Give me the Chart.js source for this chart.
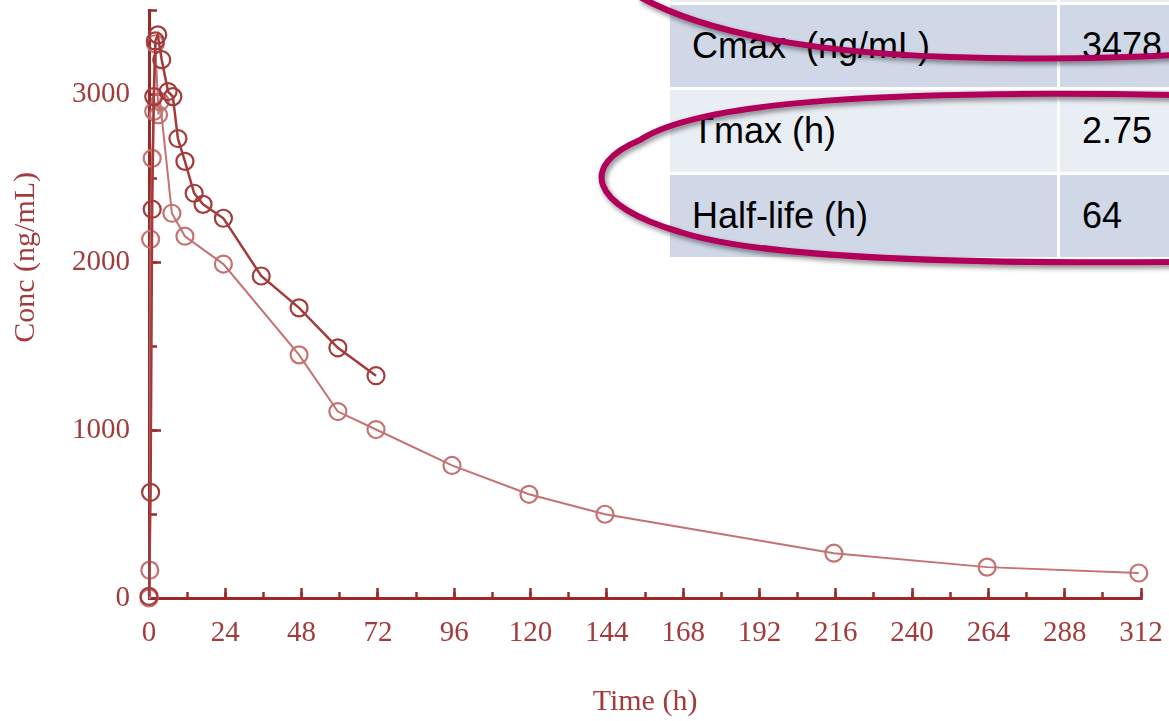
<!DOCTYPE html>
<html>
<head>
<meta charset="utf-8">
<script src="https://cdn.jsdelivr.net/npm/chart.js@4.4.0/dist/chart.umd.min.js"></script>
<style>
  html, body { margin: 0; padding: 0; background: #fff; }
  #lienzo { position: relative; width: 1169px; height: 721px; overflow: hidden; }
  #grafica { position: absolute; left: 0; top: 0; }
  .tabla { position: absolute; left: 670px; top: -80px; width: 520px;
           font-family: "Liberation Sans", Arial, sans-serif; font-size: 36px; color: #000; }
  .fila { display: flex; height: 85px; box-sizing: border-box; border-bottom: 3px solid #fff; }
  .fila.oscura { background: #d0d8e8; }
  .fila.clara { background: #e9edf4; }
  .c1 { width: 390px; box-sizing: border-box; border-right: 3px solid #fff; padding-left: 22px;
        display: flex; align-items: center; white-space: pre; }
  .c2 { flex: 1; padding-left: 22px; display: flex; align-items: center; }
  svg.marcas { position: absolute; left: 0; top: 0; pointer-events: none; }
</style>
</head>
<body>
<div id="lienzo">
  <canvas id="grafica" width="1169" height="721"></canvas>

  <div class="tabla">
    <div class="fila clara"><div class="c1"></div><div class="c2"></div></div>
    <div class="fila oscura"><div class="c1">Cmax  (ng/mL)</div><div class="c2">3478</div></div>
    <div class="fila clara"><div class="c1">Tmax (h)</div><div class="c2">2.75</div></div>
    <div class="fila oscura"><div class="c1">Half-life (h)</div><div class="c2">64</div></div>
  </div>

  <svg class="marcas" width="1169" height="721">
    <defs>
      <filter id="sombra" x="-10%" y="-50%" width="120%" height="200%">
        <feDropShadow dx="2" dy="3" stdDeviation="2.5" flood-color="#000" flood-opacity="0.45"/>
      </filter>
    </defs>
    <g fill="none" stroke="#b0005a" stroke-width="6" filter="url(#sombra)">
      <path d="M 640,-3 C 700,30 800,52 950,57 C 1050,60 1120,58 1175,55"/>
      <path d="M 1175,95 C 900,90 700,100 640,140 C 580,165 588,205 680,232 C 760,258 950,264 1175,262"/>
    </g>
  </svg>
</div>

<script>
// sujeto 1 (curva oscura, hasta 72 h)
const tiemposA = [0, 0.5, 1, 1.5, 2, 2.75, 4, 6, 7.5, 9.1, 11.3, 14.2, 17, 23.4, 35.3, 47.2, 59.4, 71.4];
const concA    = [10, 630, 2317, 2988, 3320, 3356, 3208, 3018, 2988, 2738, 2602, 2412, 2346, 2263, 1919, 1729, 1491, 1325];

// sujeto 2 (curva clara, hasta 312 h)
const tiemposB = [0, 0.25, 0.5, 1, 1.5, 2, 3, 3.5, 7.2, 11.3, 23.4, 47.2, 59.4, 71.4, 95.3, 119.5, 143.4, 215.4, 263.6, 311.3];
const concB    = [0, 166, 2138, 2620, 2900, 3303, 2880, 2958, 2293, 2156, 1990, 1449, 1111, 1004, 790, 618, 499, 267, 184, 149];

const ticksTiempo = [0, 24, 48, 72, 96, 120, 144, 168, 192, 216, 240, 264, 288, 312];
const ticksConc   = [0, 1000, 2000, 3000];

const colorEje   = '#9a2a2a';
const colorTexto = '#a23c3c';
const colorA     = '#a33b3b';
const colorB     = '#c47272';
const fuente     = { family: '"Liberation Serif", "Times New Roman", serif', size: 29 };

const puntos = (xs, ys) => xs.map((t, i) => ({ x: t, y: ys[i] }));

const tituloY = {
    id: 'tituloY',
    afterDraw(chart) {
        const { ctx, chartArea } = chart;
        ctx.save();
        ctx.translate(26, chartArea.top + (chartArea.bottom - chartArea.top) * 0.42);
        ctx.rotate(-Math.PI / 2);
        ctx.font = '30px "Liberation Serif", "Times New Roman", serif';
        ctx.fillStyle = colorTexto;
        ctx.textAlign = 'center';
        ctx.textBaseline = 'middle';
        ctx.fillText('Conc (ng/mL)', 0, 0);
        ctx.restore();
    }
};

new Chart(document.querySelector('#grafica'), {
    type: 'line',
    data: {
        datasets: [{
            data: puntos(tiemposA, concA),
            borderColor: colorA,
            borderWidth: 2.5,
            pointRadius: 8.5,
            pointBorderWidth: 2.2,
            pointBorderColor: colorA,
            pointBackgroundColor: 'rgba(0,0,0,0)',
            tension: 0,
            clip: false
        }, {
            data: puntos(tiemposB, concB),
            borderColor: colorB,
            borderWidth: 2,
            pointRadius: 8.5,
            pointBorderWidth: 2.2,
            pointBorderColor: colorB,
            pointBackgroundColor: 'rgba(0,0,0,0)',
            tension: 0,
            clip: false
        }]
    },
    options: {
        responsive: false,
        animation: false,
        devicePixelRatio: 1,
        layout: { padding: { top: 8, right: 28, left: 0, bottom: 0 } },
        plugins: {
            legend: { display: false },
            tooltip: { enabled: false }
        },
        scales: {
            x: {
                type: 'linear',
                position: 'bottom',
                weight: 1,
                min: 0,
                max: 312,
                afterBuildTicks: s => { s.ticks = ticksTiempo.map(v => ({ value: v })); },
                afterFit: s => { s.height = 123; s.paddingLeft = 0; s.paddingRight = 0; },
                border: { display: true, color: colorEje, width: 3 },
                grid: { drawOnChartArea: false, tickLength: -10, tickWidth: 2.5, tickColor: colorEje },
                ticks: { color: colorTexto, font: fuente, padding: 28, maxRotation: 0, autoSkip: false,
                         callback: v => String(v) },
                title: { display: true, text: 'Time (h)', color: colorTexto,
                         font: { family: fuente.family, size: 30 }, padding: { top: 0, bottom: 1 } }
            },
            xMenor: {
                type: 'linear',
                position: 'bottom',
                weight: 0,
                min: 0,
                max: 312,
                afterFit: s => { s.height = 0; s.paddingLeft = 0; s.paddingRight = 0; },
                border: { display: false },
                grid: { drawOnChartArea: false, tickLength: -6, tickWidth: 2.5, tickColor: colorEje },
                ticks: { display: false, stepSize: 12 }
            },
            y: {
                type: 'linear',
                position: 'left',
                weight: 1,
                min: 0,
                max: 3500,
                afterBuildTicks: s => { s.ticks = ticksConc.map(v => ({ value: v })); },
                afterFit: s => { s.width = 149; s.paddingTop = 0; s.paddingBottom = 0; },
                border: { display: true, color: colorEje, width: 3 },
                grid: { drawOnChartArea: false, tickLength: -12, tickWidth: 2.5, tickColor: colorEje },
                ticks: { color: colorTexto, font: fuente, padding: 31, callback: v => String(v) }
            },
            yMenor: {
                type: 'linear',
                position: 'left',
                weight: 0,
                min: 0,
                max: 3500,
                afterFit: s => { s.width = 0; s.paddingTop = 0; s.paddingBottom = 0; },
                border: { display: false },
                grid: { drawOnChartArea: false, tickLength: -8, tickWidth: 2.5, tickColor: colorEje },
                ticks: { display: false, stepSize: 500 }
            }
        }
    },
    plugins: [tituloY]
});
</script>
</body>
</html>
